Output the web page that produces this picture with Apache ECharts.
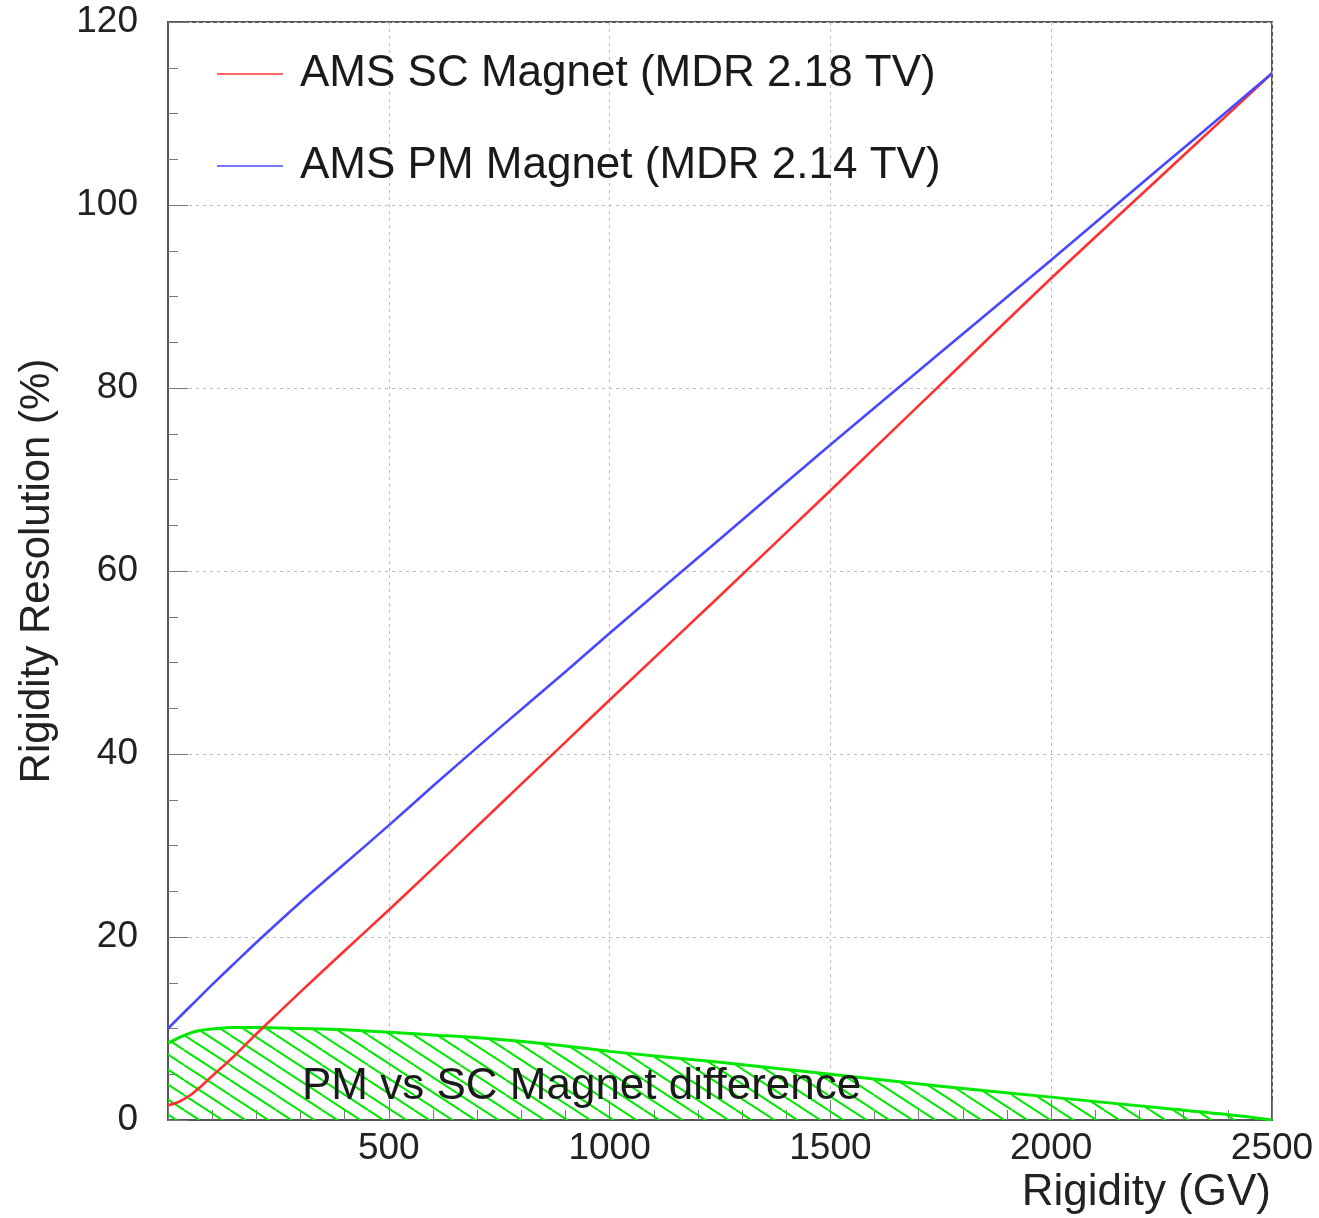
<!DOCTYPE html>
<html>
<head>
<meta charset="utf-8">
<script src="https://cdn.jsdelivr.net/npm/echarts@6/dist/echarts.min.js"></script>
<style>
  html, body { margin: 0; padding: 0; background: #fff; }
  #chart { width: 1319px; height: 1218px; }
</style>
</head>
<body>
<div id="chart"></div>
<script>
// Rigidity resolution of the AMS SC and PM magnets, with the PM - SC gap
// drawn as a hatched band along the bottom.

const rigidity = [0, 25, 50, 75, 100, 150, 200, 300, 400, 500, 600, 750, 900, 1000, 1250, 1500, 1750, 2000, 2250, 2400, 2500];
const scResolution = [1.6, 2.0, 2.7, 3.7, 4.8, 7.0, 9.4, 14.0, 18.5, 22.95, 27.5, 34.4, 41.3, 45.9, 57.3, 68.8, 80.4, 92.0, 103.2, 109.9, 114.4];
const pmResolution = [10.0, 11.2, 12.4, 13.6, 14.8, 17.1, 19.4, 23.8, 28.0, 32.2, 36.5, 42.8, 49.0, 53.2, 63.5, 73.8, 83.9, 94.0, 104.2, 110.3, 114.4];
const difference = [8.4, 9.0, 9.5, 9.8, 9.95, 10.1, 10.1, 10.0, 9.85, 9.6, 9.3, 8.8, 8.1, 7.5, 6.3, 5.0, 3.7, 2.5, 1.3, 0.6, 0];

const seriesNames = ['AMS SC Magnet (MDR 2.18 TV)', 'AMS PM Magnet (MDR 2.14 TV)'];
const bandLabel = 'PM vs SC Magnet difference';
const xTitle = 'Rigidity (GV)';
const yTitle = 'Rigidity Resolution (%)';

const FONT = '"Liberation Sans", Arial, Helvetica, sans-serif';
const GREEN = '#00e800';

function pairs(ys) {
  return rigidity.map((x, i) => [x, ys[i]]);
}

// diagonal hatch tile, lines running down-right
function hatchTile() {
  const c = document.createElement('canvas');
  c.width = 46;
  c.height = 30;
  const g = c.getContext('2d');
  g.strokeStyle = GREEN;
  g.lineWidth = 2;
  for (let k = -3; k <= 3; k++) {
    g.beginPath();
    g.moveTo(0, k * 15);
    g.lineTo(46, 30 + k * 15);
    g.stroke();
  }
  return c;
}

const chart = echarts.init(document.getElementById('chart'), null, { renderer: 'canvas' });

chart.setOption({
  animation: false,
  backgroundColor: '#fff',
  textStyle: { fontFamily: FONT },
  grid: {
    left: 168, right: 47, top: 22, bottom: 98,
    outerBoundsMode: 'none',
    containLabel: false,
    show: true, borderColor: '#555', borderWidth: 2, backgroundColor: 'transparent',
  },
  legend: {
    data: seriesNames,
    orient: 'vertical',
    left: 212,
    top: 47,
    icon: 'rect',
    itemWidth: 66,
    itemHeight: 1.5,
    itemGap: 48,
    selectedMode: false,
    textStyle: { fontFamily: FONT, fontSize: 44, color: '#1a1a1a', padding: [0, 0, 0, 12] },
  },
  xAxis: {
    type: 'value',
    min: 0,
    max: 2500,
    interval: 500,
    axisLine: { lineStyle: { color: '#555', width: 2 } },
    axisTick: { inside: true, length: 20, lineStyle: { color: '#777', width: 1 } },
    minorTick: { show: true, splitNumber: 5, length: 10, lineStyle: { color: '#777', width: 1 } },
    axisLabel: {
      fontFamily: FONT, fontSize: 37, color: '#222', margin: 10,
      formatter: (v) => (v === 0 ? '' : String(v)),
    },
    splitLine: { show: true, lineStyle: { color: '#bbb', width: 1, type: [3, 4] } },
  },
  yAxis: {
    type: 'value',
    min: 0,
    max: 120,
    interval: 20,
    name: yTitle,
    nameLocation: 'middle',
    nameGap: 110,
    nameTextStyle: { fontFamily: FONT, fontSize: 42, color: '#222' },
    axisLine: { show: true, lineStyle: { color: '#555', width: 2 } },
    axisTick: { show: true, inside: true, length: 20, lineStyle: { color: '#777', width: 1 } },
    minorTick: { show: true, splitNumber: 4, length: 10, lineStyle: { color: '#777', width: 1 } },
    axisLabel: { fontFamily: FONT, fontSize: 37, color: '#222', margin: 30 },
    splitLine: { show: true, lineStyle: { color: '#bbb', width: 1, type: [3, 4] } },
  },
  graphic: [
    {
      type: 'text',
      right: 1319 - 1271,
      top: 1171,
      z: 10,
      style: { text: xTitle, font: '44px ' + FONT, fill: '#222' },
    },
    {
      type: 'text',
      left: 302,
      top: 1065,
      z: 10,
      style: { text: bandLabel, font: '44px ' + FONT, fill: '#1a1a1a' },
    },
  ],
  series: [
    {
      name: 'difference',
      type: 'line',
      data: pairs(difference),
      smooth: 0.3,
      symbol: 'none',
      z: 2,
      lineStyle: { color: GREEN, width: 3 },
      areaStyle: { color: { image: hatchTile(), repeat: 'repeat' }, opacity: 1 },
    },
    {
      name: seriesNames[0],
      type: 'line',
      data: pairs(scResolution),
      smooth: 0.3,
      symbol: 'none',
      z: 3,
      color: '#ff3030',
      lineStyle: { color: '#ff3030', width: 2.6 },
    },
    {
      name: seriesNames[1],
      type: 'line',
      data: pairs(pmResolution),
      smooth: 0.3,
      symbol: 'none',
      z: 4,
      color: '#4848ff',
      lineStyle: { color: '#4848ff', width: 2.6 },
    },
  ],
});
</script>
</body>
</html>
